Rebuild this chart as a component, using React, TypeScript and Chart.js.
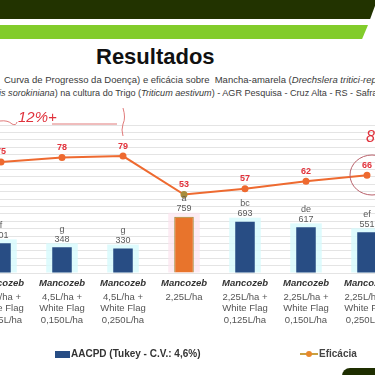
import React, { useEffect, useRef } from "react";
import { Chart, registerables } from "chart.js";

Chart.register(...registerables);

// ---- data ----
const categoryNames = ["Mancozeb", "Mancozeb", "Mancozeb", "Mancozeb", "Mancozeb", "Mancozeb", "Mancozeb"];
const categoryDoses = [
  ["4,5L/ha +", "White Flag", "0,125L/ha"],
  ["4,5L/ha +", "White Flag", "0,150L/ha"],
  ["4,5L/ha +", "White Flag", "0,250L/ha"],
  ["2,25L/ha"],
  ["2,25L/ha +", "White Flag", "0,125L/ha"],
  ["2,25L/ha +", "White Flag", "0,150L/ha"],
  ["2,25L/ha +", "White Flag", "0,250L/ha"],
];
const aacpd = [401, 348, 330, 759, 693, 617, 551];
const tukeyLetters = ["f", "g", "g", "a", "bc", "de", "ef"];
const eficacia = [75, 78, 79, 53, 57, 62, 66];
const highlightIndex = 3;

const FONT = '"Liberation Sans", Arial, sans-serif';

const labelPlugin = {
  id: "customLabels",
  beforeDatasetsDraw(chart: any) {
    const ctx = chart.ctx;
    const meta = chart.getDatasetMeta(0);
    ctx.save();
    meta.data.forEach((el: any, i: number) => {
      ctx.fillStyle = i === highlightIndex ? "rgba(252,228,240,0.7)" : "rgba(214,250,252,0.8)";
      const pad = 6;
      ctx.fillRect(el.x - el.width / 2 - pad, el.y - 4, el.width + pad * 2, el.base - el.y + 4);
    });
    ctx.restore();
  },
  afterDatasetsDraw(chart: any) {
    const ctx = chart.ctx;
    ctx.save();
    ctx.textAlign = "center";
    ctx.textBaseline = "middle";
    const barMeta = chart.getDatasetMeta(0);
    barMeta.data.forEach((el: any, i: number) => {
      ctx.fillStyle = "#5a5a5a";
      ctx.font = `9px ${FONT}`;
      ctx.fillText(tukeyLetters[i], el.x, el.y - 18);
      ctx.fillText(String(aacpd[i]), el.x, el.y - 8);
    });
    const lineMeta = chart.getDatasetMeta(1);
    ctx.fillStyle = "#e2323c";
    ctx.font = `bold 9px ${FONT}`;
    lineMeta.data.forEach((el: any, i: number) => {
      ctx.fillText(String(eficacia[i]), el.x, el.y - 10);
    });
    const xs = chart.scales.x;
    const bottom = chart.chartArea.bottom;
    categoryNames.forEach((name, i) => {
      const x = xs.getPixelForValue(i);
      ctx.fillStyle = "#333";
      ctx.font = `italic bold 9.5px ${FONT}`;
      ctx.fillText(name, x, bottom + 10);
      ctx.fillStyle = "#555";
      ctx.font = `9.5px ${FONT}`;
      categoryDoses[i].forEach((l, j) => ctx.fillText(l, x, bottom + 24 + j * 11.5));
    });
    ctx.restore();
  },
};

export default function App() {
  const ref = useRef<HTMLCanvasElement>(null);
  useEffect(() => {
    if (!ref.current) return;
    const chart = new Chart(ref.current, {
      type: "bar",
      data: {
        labels: categoryNames.map((n, i) => [n, ...categoryDoses[i]]),
        datasets: [
          {
            type: "bar",
            label: "AACPD (Tukey - C.V.: 4,6%)",
            data: aacpd,
            yAxisID: "y",
            backgroundColor: aacpd.map((_, i) => (i === highlightIndex ? "#e8742c" : "#284d84")),
            borderColor: aacpd.map((_, i) => (i === highlightIndex ? "#9c8a34" : "#284d84")),
            borderWidth: aacpd.map((_, i) => (i === highlightIndex ? 1 : 0)),
            categoryPercentage: 1,
            barPercentage: 0.32,
            order: 2,
          } as any,
          {
            type: "line",
            label: "Eficácia",
            data: eficacia,
            yAxisID: "y1",
            borderColor: "#ee6a30",
            borderWidth: 2,
            pointRadius: 2.5,
            pointBackgroundColor: eficacia.map((_, i) => (i === highlightIndex ? "#a88c3c" : "#ee6a30")),
            pointBorderColor: eficacia.map((_, i) => (i === highlightIndex ? "#a88c3c" : "#ee6a30")),
            tension: 0,
            order: 1,
          } as any,
        ],
      },
      options: {
        responsive: false,
        animation: false,
        layout: { padding: { left: 10.5, right: 12.5, top: 25, bottom: 102 } },
        plugins: { legend: { display: false }, tooltip: { enabled: false } },
        scales: {
          x: { display: false },
          y: {
            min: 0,
            max: 2000,
            ticks: { display: false, stepSize: 100, maxTicksLimit: 30 },
            grid: { color: "#e4e4e4", drawTicks: false, lineWidth: 1 },
            border: { display: false },
          },
          y1: { display: false, min: 0, max: 100, position: "right" },
        },
      },
      plugins: [labelPlugin],
    });
    return () => chart.destroy();
  }, []);

  return (
    <div
      style={{
        position: "fixed",
        left: 0,
        top: 0,
        width: 375,
        height: 375,
        overflow: "hidden",
        background: "#fff",
        fontFamily: FONT,
      }}
    >
      {/* header bands */}
      <div style={{ position: "absolute", left: 0, top: 0, width: 375, height: 19, background: "#223300", clipPath: "polygon(0 0, 100% 0, 100% 30%, 98.7% 100%, 0 100%)" }} />
      <div style={{ position: "absolute", left: 0, top: 25, width: 368, height: 14, background: "#82cc2b", clipPath: "polygon(0 0, 100% 0, 98.4% 100%, 0 100%)" }} />
      {/* title */}
      <div style={{ position: "absolute", left: 96, top: 44, fontSize: 22, fontWeight: "bold", color: "#111", whiteSpace: "nowrap", lineHeight: "26px" }}>Resultados</div>
      <div style={{ position: "absolute", left: 4, top: 74, fontSize: 9.5, color: "#3a3a3a", whiteSpace: "pre", lineHeight: "12px" }}>
        {"Curva de Progresso da Doença) e eficácia sobre  Mancha-amarela ("}<i>Drechslera tritici-repentis</i>{") e Mancha-marrom"}
      </div>
      <div style={{ position: "absolute", left: -4, top: 87, fontSize: 9.1, color: "#3a3a3a", whiteSpace: "pre", lineHeight: "12px" }}>
        <i>ris sorokiniana</i>{") na cultura do Trigo ("}<i>Triticum aestivum</i>{") - AGR Pesquisa - Cruz Alta - RS - Safra 2023"}
      </div>
      {/* chart */}
      <canvas ref={ref} width={450} height={275} style={{ position: "absolute", left: -40, top: 100, width: 450, height: 275 }} />
      {/* hand annotations */}
      <svg width={375} height={375} style={{ position: "absolute", left: 0, top: 0, pointerEvents: "none" }}>
        <path d="M0 121 Q8 120 12 124 Q16 126 17 122" stroke="#e07a7a" strokeWidth={1} fill="none" />
        <path d="M52 124 L117 124" stroke="#e07a7a" strokeWidth={1} fill="none" />
        <path d="M123 108 Q126 118 123 124 Q121 130 123 136" stroke="#e07a7a" strokeWidth={1} fill="none" />
        <ellipse cx={372} cy={175} rx={22} ry={20} stroke="#b8606a" strokeWidth={1} fill="none" />
      </svg>
      <div style={{ position: "absolute", left: 18, top: 108, fontSize: 15, fontStyle: "italic", color: "#e0323c", whiteSpace: "nowrap", lineHeight: "18px" }}>12%+</div>
      <div style={{ position: "absolute", left: 366, top: 128, fontSize: 16, fontStyle: "italic", color: "#e0323c", whiteSpace: "nowrap", lineHeight: "18px" }}>8%+</div>
      {/* legend */}
      <div style={{ position: "absolute", left: 55, top: 351, width: 15, height: 7, background: "#284d84" }} />
      <div style={{ position: "absolute", left: 71, top: 347, fontSize: 10, fontWeight: "bold", color: "#333", whiteSpace: "nowrap", lineHeight: "14px" }}>AACPD (Tukey - C.V.: 4,6%)</div>
      <div style={{ position: "absolute", left: 300, top: 353, width: 18, height: 2, background: "#c9a040" }} />
      <div style={{ position: "absolute", left: 306, top: 351, width: 6, height: 6, borderRadius: 3, background: "#e8882c" }} />
      <div style={{ position: "absolute", left: 319, top: 347, fontSize: 10, fontWeight: "bold", color: "#444", whiteSpace: "nowrap", lineHeight: "14px" }}>Eficácia</div>
      {/* bottom-right decoration */}
      <div style={{ position: "absolute", left: 342, top: 368, width: 40, height: 12, background: "#1e2e00", borderRadius: "8px 0 0 0" }} />
    </div>
  );
}
